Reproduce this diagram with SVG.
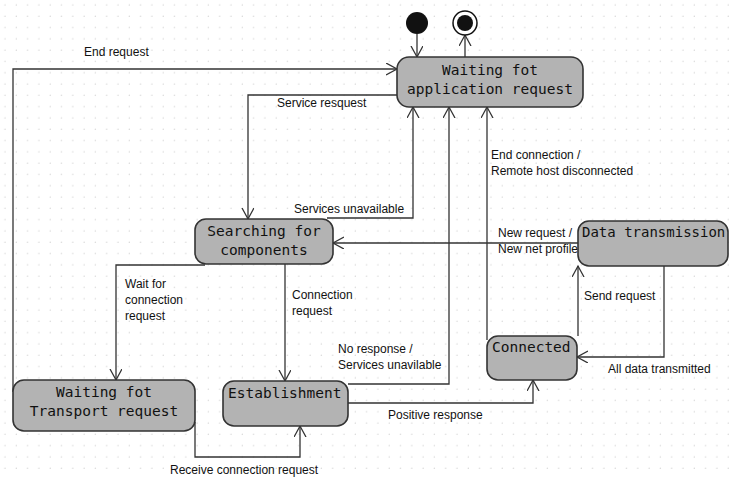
<svg xmlns="http://www.w3.org/2000/svg" width="729" height="477" viewBox="0 0 729 477">
<defs>
<pattern id="grid" x="0" y="0" width="11.3" height="11.3" patternUnits="userSpaceOnUse">
<circle cx="5" cy="5" r="0.7" fill="#d4d4d4"/>
</pattern>
<marker id="arr" markerUnits="userSpaceOnUse" markerWidth="14" markerHeight="14" refX="11" refY="6" orient="auto">
<path d="M0,0 L11,6 L0,12" fill="none" stroke="#333" stroke-width="1.3"/>
</marker>
<style>
.node rect{fill:#b3b3b3;stroke:#333;stroke-width:1.6}
.nt{font-family:"DejaVu Sans Mono","Liberation Mono",monospace;font-size:14.5px;fill:#111}
.lb{font-family:"Liberation Sans",Arial,sans-serif;font-size:12px;fill:#111}
.c{fill:none;stroke:#333;stroke-width:1.3}
</style>
</defs>
<rect width="729" height="477" fill="#fff"/>
<rect width="729" height="477" fill="url(#grid)"/>

<g id="connectors">
<path class="c" d="M417,34 V57" marker-end="url(#arr)"/>
<path class="c" d="M465,57 V35" marker-end="url(#arr)"/>
<path class="c" d="M13,392 V69 H397" marker-end="url(#arr)"/>
<path class="c" d="M397,95 H248 V219" marker-end="url(#arr)"/>
<path class="c" d="M327,218 H413 V107" marker-end="url(#arr)"/>
<path class="c" d="M348,384 H449 V107" marker-end="url(#arr)"/>
<path class="c" d="M487,340 V107" marker-end="url(#arr)"/>
<path class="c" d="M205,265 H116 V380" marker-end="url(#arr)"/>
<path class="c" d="M285,264 V381" marker-end="url(#arr)"/>
<path class="c" d="M578,243 H333" marker-end="url(#arr)"/>
<path class="c" d="M578,336 V266" marker-end="url(#arr)"/>
<path class="c" d="M664,266 V357 H577" marker-end="url(#arr)"/>
<path class="c" d="M195,422 V457 H300 V426" marker-end="url(#arr)"/>
<path class="c" d="M348,403 H533 V380" marker-end="url(#arr)"/>
</g>

<g id="labels">
<text class="lb" x="84" y="56">End request</text>
<text class="lb" x="277" y="107">Service resquest</text>
<text class="lb" x="294" y="213">Services unavailable</text>
<text class="lb" x="491" y="159">End connection /</text>
<text class="lb" x="491" y="175">Remote host disconnected</text>
<text class="lb" x="498" y="237">New request /</text>
<text class="lb" x="498" y="253">New net profile</text>
<text class="lb" x="125" y="288">Wait for</text>
<text class="lb" x="125" y="304">connection</text>
<text class="lb" x="125" y="320">request</text>
<text class="lb" x="292" y="299">Connection</text>
<text class="lb" x="292" y="315">request</text>
<text class="lb" x="338" y="353">No response /</text>
<text class="lb" x="338" y="369">Services unavilable</text>
<text class="lb" x="584" y="300">Send request</text>
<text class="lb" x="608" y="373">All data transmitted</text>
<text class="lb" x="388" y="419">Positive response</text>
<text class="lb" x="170" y="474">Receive connection request</text>
</g>

<g id="initial"><circle cx="417" cy="23" r="11" fill="#111"/></g>
<g id="final"><circle cx="465" cy="23" r="12" fill="#fff" stroke="#111" stroke-width="1.5"/><circle cx="465" cy="23" r="8" fill="#111"/></g>

<g id="app" class="node">
<rect x="397" y="57" width="186" height="50" rx="12"/>
<text class="nt" x="490" y="75" text-anchor="middle">Waiting fot</text>
<text class="nt" x="490" y="94" text-anchor="middle">application request</text>
</g>
<g id="search" class="node">
<rect x="195" y="219" width="138" height="45" rx="11"/>
<text class="nt" x="264" y="236" text-anchor="middle">Searching for</text>
<text class="nt" x="264" y="255" text-anchor="middle">components</text>
</g>
<g id="data" class="node">
<rect x="578" y="221" width="150" height="45" rx="11"/>
<text class="nt" x="582" y="237" style="font-size:14px">Data transmission</text>
</g>
<g id="transport" class="node">
<rect x="13" y="380" width="182" height="51" rx="11"/>
<text class="nt" x="104" y="397" text-anchor="middle">Waiting fot</text>
<text class="nt" x="104" y="416" text-anchor="middle">Transport request</text>
</g>
<g id="establish" class="node">
<rect x="223" y="381" width="125" height="45" rx="11"/>
<text class="nt" x="228" y="398">Establishment</text>
</g>
<g id="connected" class="node">
<rect x="487" y="336" width="90" height="44" rx="11"/>
<text class="nt" x="492" y="352">Connected</text>
</g>
</svg>
